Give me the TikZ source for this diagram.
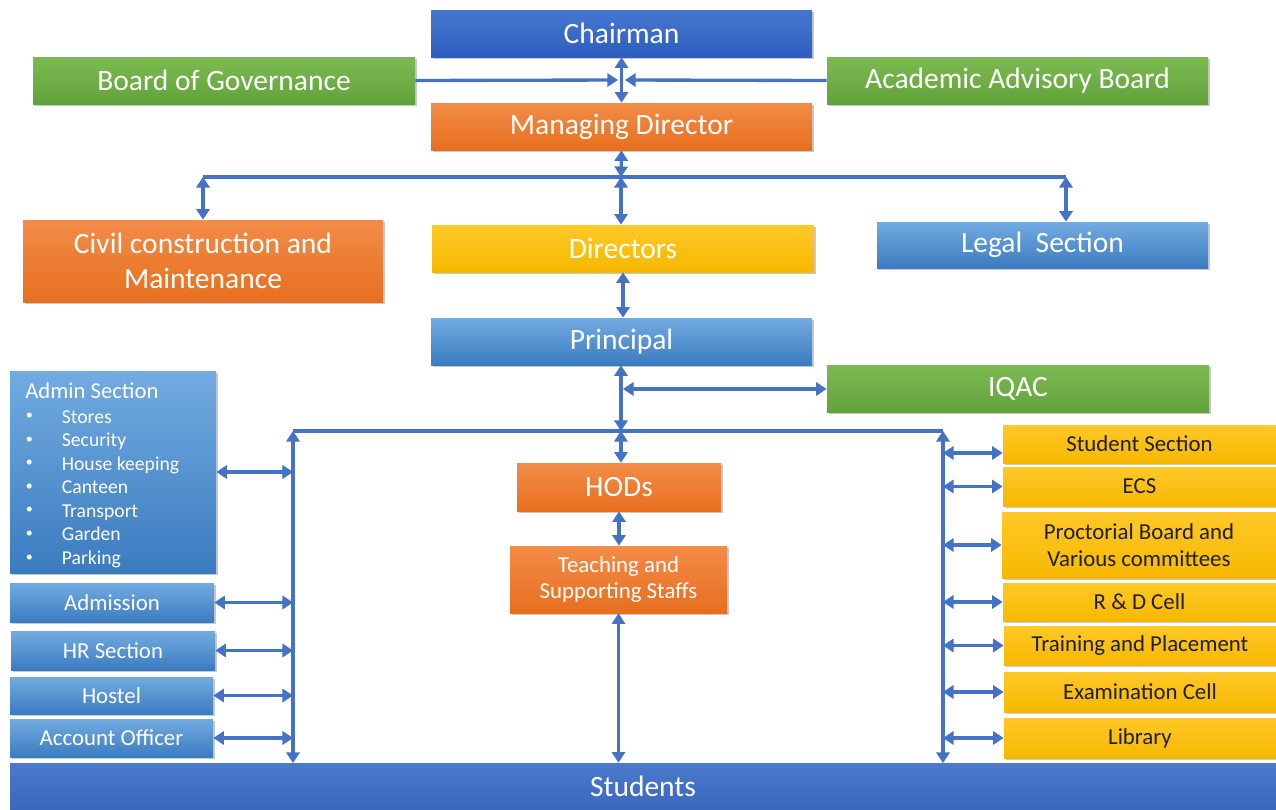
\documentclass[tikz,border=0pt]{standalone}
\usepackage{fontspec}
\setmainfont{Carlito}
\usetikzlibrary{arrows.meta,shadows}
\definecolor{lnC}{HTML}{4472C4}
\definecolor{dbT}{HTML}{4677D0}
\definecolor{dbB}{HTML}{2E5EBE}
\definecolor{grT}{HTML}{7CBB52}
\definecolor{grB}{HTML}{62A23A}
\definecolor{orT}{HTML}{F28C48}
\definecolor{orB}{HTML}{E76F1E}
\definecolor{yeT}{HTML}{FFC828}
\definecolor{yeB}{HTML}{F6B800}
\definecolor{lbT}{HTML}{72ABE0}
\definecolor{lbB}{HTML}{3B7BC0}
\definecolor{stT}{HTML}{4B79CB}
\definecolor{stB}{HTML}{3A68BE}
\newcommand\mkbox[7]{\node[#6, minimum width={(#4-#2)*0.02cm}, minimum height={(#5-#3)*0.02cm}] (#1) at ({(#2+#4)/2},{(#3+#5)/2}) {#7};}
\tikzset{
  base/.style={rectangle, inner sep=1pt, align=center, text=white,
    font=\fontsize{16.8}{19.8}\selectfont,
    drop shadow={shadow xshift=1.1pt, shadow yshift=-1.4pt, opacity=0.3, fill=black!70}},
  dkblue/.style={base, top color=dbT, bottom color=dbB},
  green/.style={base, top color=grT, bottom color=grB},
  orange/.style={base, top color=orT, bottom color=orB},
  yellow/.style={base, top color=yeT, bottom color=yeB},
  ltblue/.style={base, top color=lbT, bottom color=lbB},
  stud/.style={base, top color=stT, bottom color=stB},
  smallf/.style={font=\fontsize{13}{15.3}\selectfont},
  darktxt/.style={text=black!88},
  lk/.style={draw=lnC, line width=1.9pt},
  dbl/.style={lk, {Triangle[length=6pt,width=7.5pt]}-{Triangle[length=6pt,width=7.5pt]}},
  one/.style={lk, -{Triangle[length=6pt,width=7.5pt]}},
  admtxt/.style={text=white, inner sep=0pt, font=\fontsize{11.2}{13.4}\selectfont}
}
\begin{document}
\begin{tikzpicture}[x=0.02cm, y=-0.02cm]
\useasboundingbox (0,0) rectangle (1276,809);
% top
\mkbox{chair}{431}{10}{812}{57}{dkblue}{Chairman}
\mkbox{bog}{33}{57}{415}{104}{green}{Board of Governance}
\mkbox{aab}{827}{57}{1208}{104}{green}{Academic Advisory Board}
\mkbox{md}{431}{103}{812}{150}{orange}{Managing Director}
\mkbox{civil}{23}{220}{383}{302}{orange}{Civil construction and\\Maintenance}
\mkbox{dir}{432}{225}{814}{272}{yellow}{Directors}
\mkbox{legal}{877}{222}{1208}{268}{ltblue}{Legal\ \ Section}
\mkbox{prin}{431}{318}{812}{365}{ltblue}{Principal}
\mkbox{iqac}{827}{365}{1209}{412}{green}{IQAC}
% admin column
\mkbox{admin}{10}{371}{216}{573}{ltblue}{}
\node[anchor=base west, text=white, inner sep=0pt, font=\fontsize{12.9}{15}\selectfont] (adminT) at (25,398) {Admin Section};
\foreach \t [count=\i] in {Stores,Security,House keeping,Canteen,Transport,Garden,Parking}{
  \node[admtxt, anchor=center, font=\fontsize{8}{9}\selectfont] (ab\i) at (29.5,{416.5+(\i-1)*23.55}) {\textbullet};
  \node[admtxt, anchor=base west] (ai\i) at (61.5,{423+(\i-1)*23.55}) {\t};
}
\mkbox{adm}{10}{583}{214}{622}{ltblue,smallf}{Admission}
\mkbox{hr}{11}{631}{215}{670}{ltblue,smallf}{HR Section}
\mkbox{hos}{10}{677}{213}{714}{ltblue,smallf}{Hostel}
\mkbox{acc}{10}{719}{213}{757}{ltblue,smallf}{Account Officer}
% center
\mkbox{hod}{517}{463}{721}{511}{orange}{HODs}
\mkbox{teach}{510}{546}{727}{613}{orange,smallf}{Teaching and\\Supporting Staffs}
% right column
\mkbox{ss}{1003}{425}{1276}{463}{yellow,smallf,darktxt}{Student Section}
\mkbox{ecs}{1003}{467}{1276}{506}{yellow,smallf,darktxt}{ECS}
\mkbox{proc}{1002}{512}{1276}{578}{yellow,smallf,darktxt}{Proctorial Board and\\Various committees}
\mkbox{rd}{1003}{583}{1276}{621}{yellow,smallf,darktxt}{R \& D Cell}
\mkbox{tp}{1004}{626}{1276}{665}{yellow,smallf,darktxt}{Training and Placement}
\mkbox{exam}{1004}{672}{1276}{712}{yellow,smallf,darktxt}{Examination Cell}
\mkbox{lib}{1004}{718}{1276}{758}{yellow,smallf,darktxt}{Library}
% students
\mkbox{stu}{10}{763}{1276}{809}{stud}{Students}
% junction coordinates
\coordinate (jL) at (618,80);
\coordinate (jR) at (625,80);
\coordinate (busT) at (621,177);
\coordinate (busTL) at (203,177);
\coordinate (busTR) at (1066,177);
\coordinate (busM) at (621,431);
\coordinate (busML) at (293,431);
\coordinate (busMR) at (943,431);
\coordinate (busBL) at (293,763);
\coordinate (busBR) at (943,763);
\coordinate (iqJ) at (623,389);
\coordinate (ssJ) at (943,453);
% connectors top
\draw[dbl] (chair.south) -- (md.north);
\draw[one] (bog.east) -- (jL);
\draw[one] (aab.west) -- (jR);
\draw[dbl] (md.south) -- (busT);
\draw[lk] (busTL) -- (busTR);
\draw[dbl] (busTL) -- (civil.north -| busTL);
\draw[dbl] (busT) -- (dir.north -| busT);
\draw[dbl] (busTR) -- (legal.north -| busTR);
\draw[dbl] (dir.south) -- (dir.south |- prin.north);
\draw[dbl] (prin.south -| busM) -- (busM);
\draw[dbl] (iqJ) -- (iqac.west |- iqJ);
% middle bus
\draw[lk] (busML) -- (busMR);
\draw[dbl] (busML) -- (busBL);
\draw[dbl] (busMR) -- (busBR);
\draw[dbl] (busM) -- (hod.north -| busM);
\draw[dbl] (hod.south) -- (hod.south |- teach.north);
\draw[dbl] (teach.south) -- (teach.south |- stu.north);
% left arrows
\foreach \n in {admin,adm,hr,hos,acc}{\draw[dbl] (\n.east) -- (\n.east -| busML);}
% right arrows
\draw[dbl] (ssJ) -- (ssJ -| ss.west);
\foreach \n in {ecs,proc,rd,tp,exam,lib}{\draw[dbl] (\n.west -| busMR) -- (\n.west);}
\end{tikzpicture}
\end{document}
